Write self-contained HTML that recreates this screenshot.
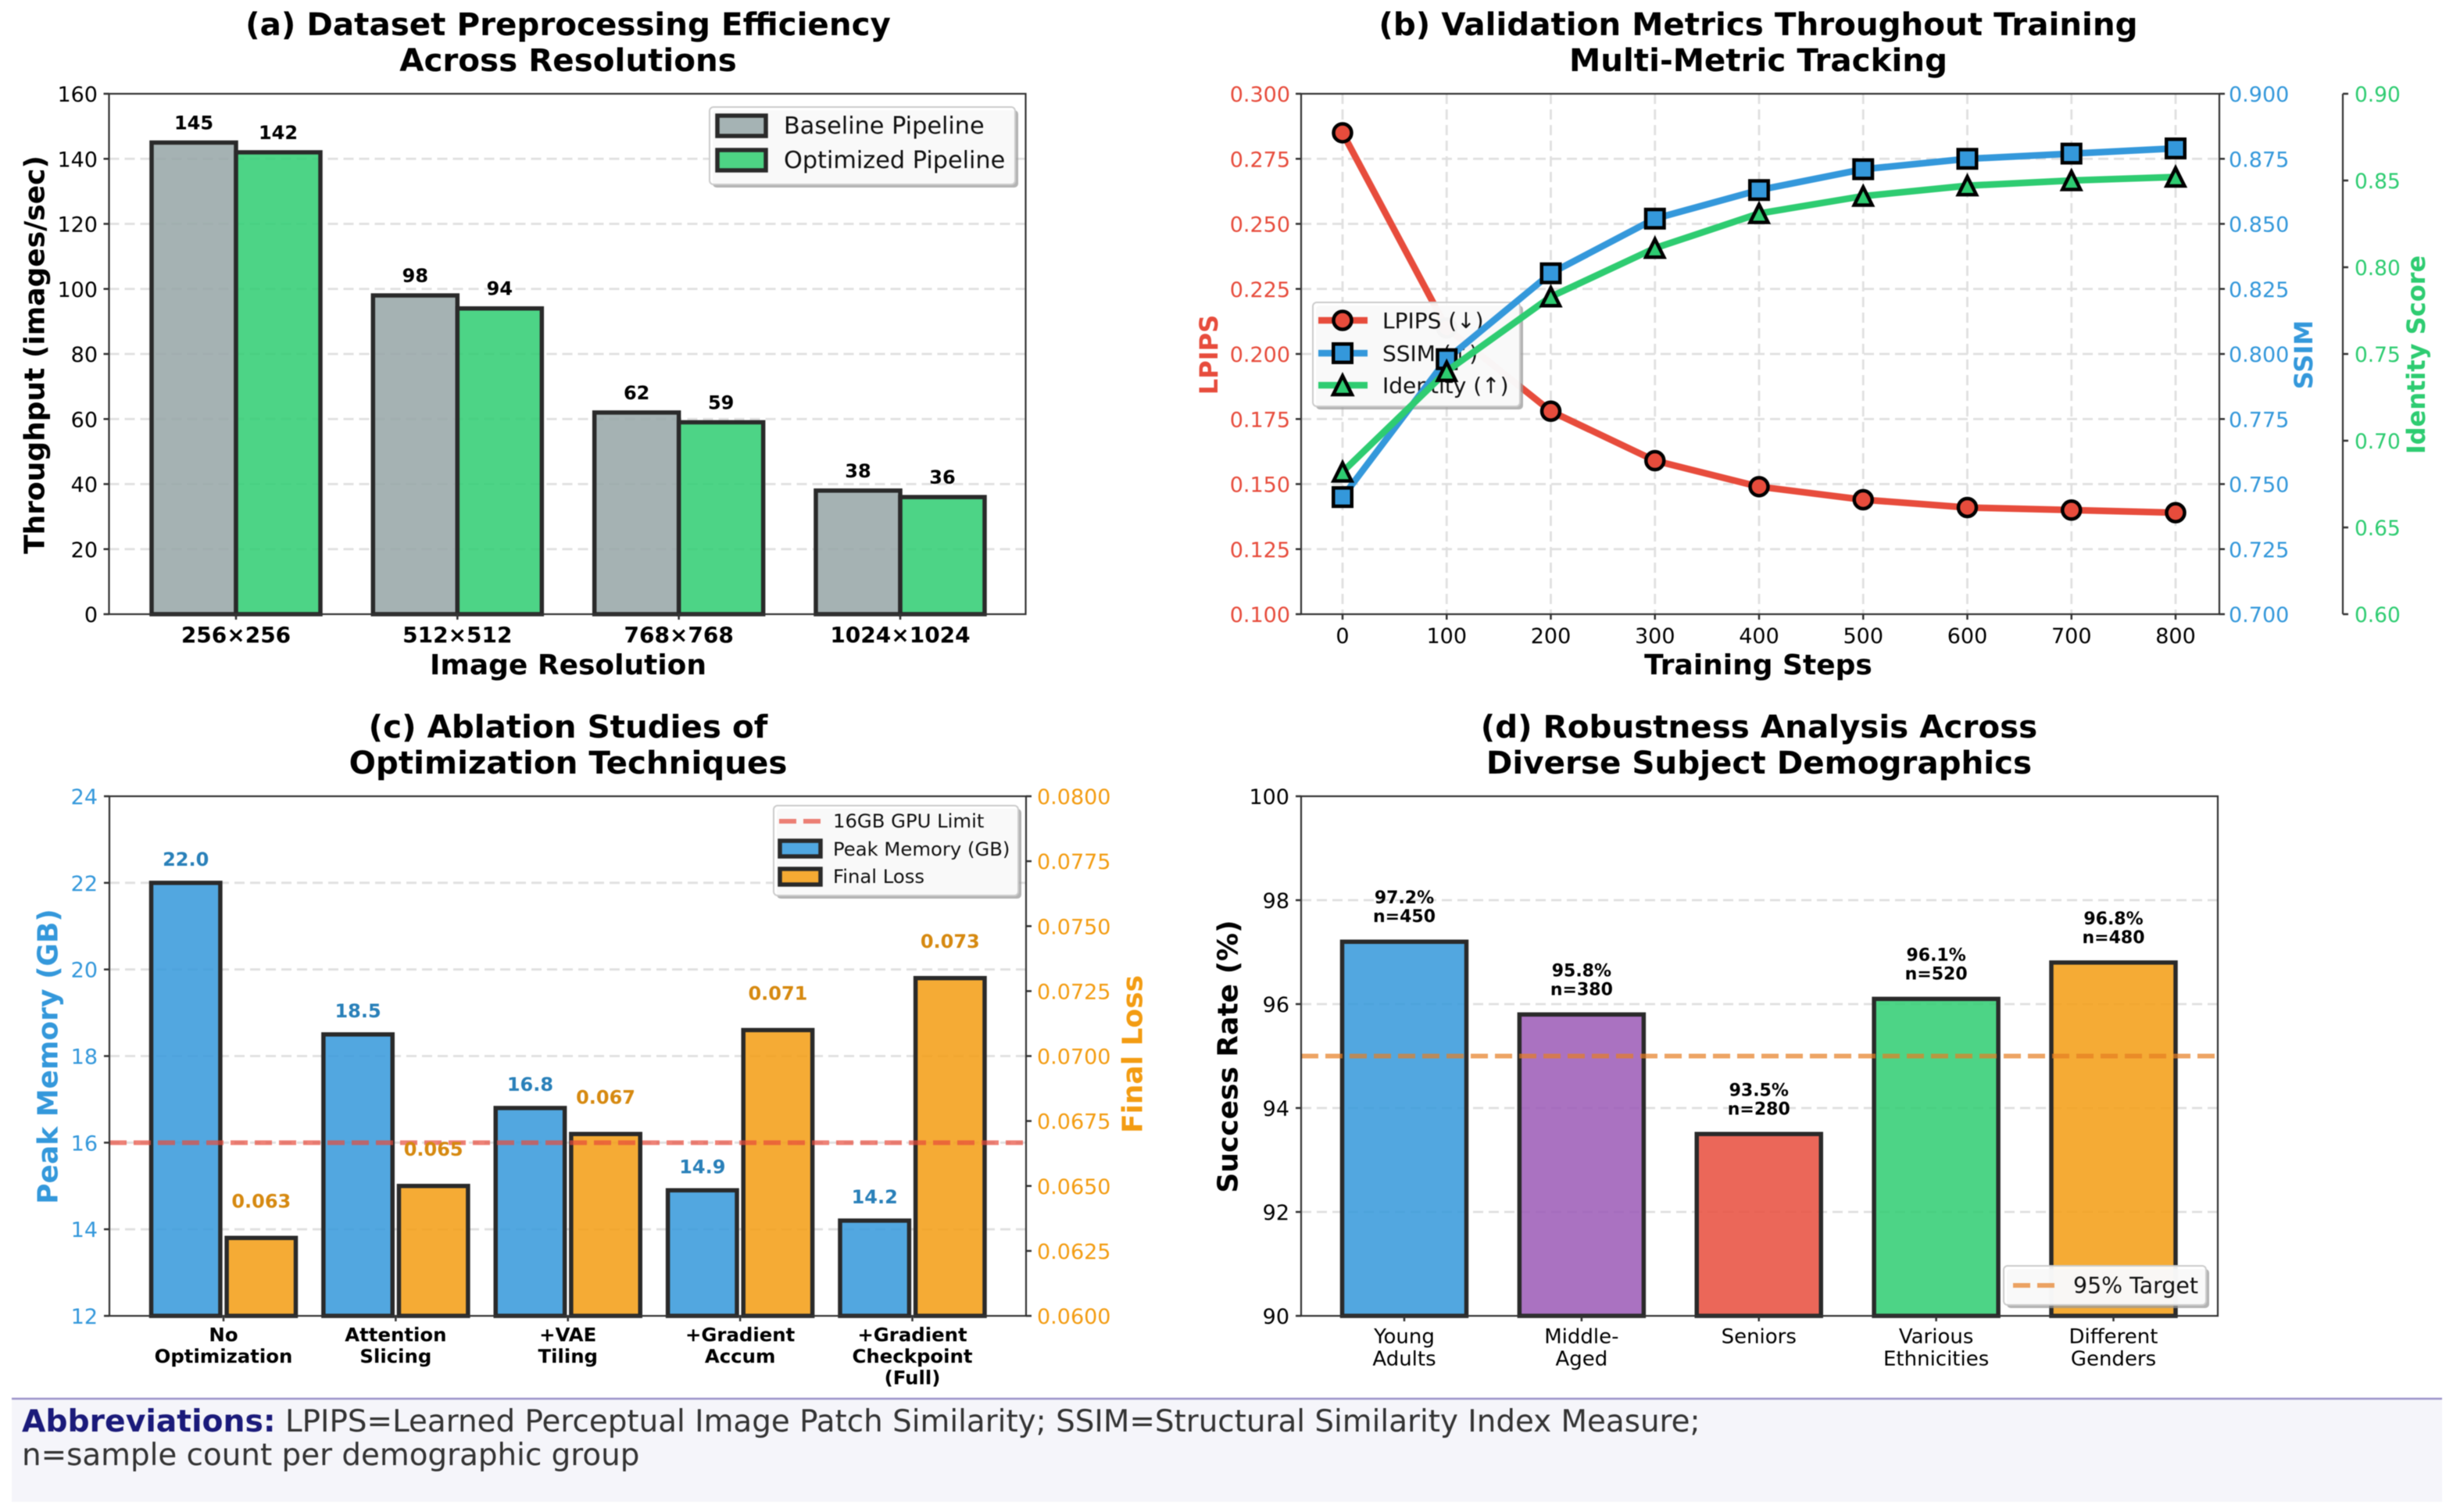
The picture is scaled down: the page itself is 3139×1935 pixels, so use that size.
<!DOCTYPE html>
<html lang="en">
<head>
<meta charset="utf-8">
<title>Training pipeline evaluation figure</title>
<style>
html,body{margin:0;padding:0;background:#fff;}
svg{display:block;font-family:"DejaVu Sans","Liberation Sans",sans-serif;filter:blur(0.5px);}
.title{font-size:40.4px;font-weight:700;fill:#000;text-anchor:middle;}
.axis-label{font-size:36px;font-weight:700;text-anchor:middle;}
.spine{stroke:#333;stroke-width:2.2;fill:none;}
.legend-frame{fill:#fff;fill-opacity:.92;stroke:#ccc;stroke-width:2;}
.legend-shadow{fill:#999;fill-opacity:.75;}
</style>
</head>
<body>
<svg id="figure" xmlns="http://www.w3.org/2000/svg" width="3139" height="1935" viewBox="0 0 3139 1935">
  <rect width="3139" height="1935" fill="#fff"/>

  <g id="panel-a">
    <text class="title" x="727" y="45">(a) Dataset Preprocessing Efficiency</text>
    <text class="title" x="727" y="91">Across Resolutions</text>
    <g id="a-grid"></g><g id="a-bars"></g><g id="a-labels"></g>
    <rect class="spine" x="139.5" y="120" width="1173" height="666"/>
    <g id="a-axis"></g>
    <text class="axis-label" x="727" y="863" fill="#000">Image Resolution</text>
    <text class="axis-label" transform="rotate(-90 45 454)" x="45" y="454" dominant-baseline="central" fill="#000">Throughput (images/sec)</text>
    <g>
      <rect class="legend-shadow" x="912" y="141" width="391" height="99" rx="5"/>
      <rect class="legend-frame" x="908" y="137" width="391" height="99" rx="5"/>
      <rect x="918" y="148" width="62" height="26" fill="#a5b3b4" stroke="#2a2a2a" stroke-width="5.5"/>
      <text x="1003" y="171" font-size="30.3" fill="#111">Baseline Pipeline</text>
      <rect x="918" y="192" width="62" height="26" fill="#4dd484" stroke="#2a2a2a" stroke-width="5.5"/>
      <text x="1003" y="215" font-size="30.3" fill="#111">Optimized Pipeline</text>
    </g>
  </g>

  <g id="panel-b">
    <text class="title" x="2250" y="45">(b) Validation Metrics Throughout Training</text>
    <text class="title" x="2250" y="91">Multi-Metric Tracking</text>
    <g id="b-grid"></g>
    <g id="b-lpips"></g>
    <g>
      <rect class="legend-shadow" x="1684" y="391" width="265" height="133" rx="5"/>
      <rect class="legend-frame" x="1680" y="387" width="265" height="133" rx="5"/>
      <line x1="1687" x2="1750" y1="410" y2="410" stroke="#e74c3c" stroke-width="8.5"/>
      <circle cx="1718" cy="410" r="11.5" fill="#e74c3c" stroke="#000" stroke-width="4.5"/>
      <text x="1769" y="420" font-size="28" fill="#111">LPIPS (↓)</text>
      <line x1="1687" x2="1750" y1="452" y2="452" stroke="#3498db" stroke-width="8.5"/>
      <rect x="1706.25" y="440.25" width="23.5" height="23.5" fill="#3498db" stroke="#000" stroke-width="4.5"/>
      <text x="1769" y="462" font-size="28" fill="#111">SSIM (↑)</text>
      <line x1="1687" x2="1750" y1="493" y2="493" stroke="#2ecc71" stroke-width="8.5"/>
      <polygon points="1718,481 1706,505 1730,505" fill="#2ecc71" stroke="#000" stroke-width="4.5"/>
      <text x="1769" y="503" font-size="28" fill="#111">Identity (↑)</text>
    </g>
    <g id="b-ssim"></g>
    <g id="b-identity"></g>
    <rect class="spine" x="1665" y="120" width="1175" height="666"/>
    <line class="spine" x1="2998" x2="2998" y1="120" y2="786"/>
    <g id="b-axis"></g>
    <text class="axis-label" x="2250" y="863" fill="#000">Training Steps</text>
    <text class="axis-label" style="font-size:32px" transform="rotate(-90 1547 454)" x="1547" y="454" dominant-baseline="central" fill="#e74c3c">LPIPS</text>
    <text class="axis-label" style="font-size:32px" transform="rotate(-90 2948 454)" x="2948" y="454" dominant-baseline="central" fill="#3498db">SSIM</text>
    <text class="axis-label" style="font-size:32px" transform="rotate(-90 3092 454)" x="3092" y="454" dominant-baseline="central" fill="#2ecc71">Identity Score</text>
  </g>

  <g id="panel-c">
    <text class="title" x="727" y="944">(c) Ablation Studies of</text>
    <text class="title" x="727" y="990">Optimization Techniques</text>
    <g id="c-grid"></g><g id="c-bars"></g><g id="c-limit"></g><g id="c-labels"></g>
    <rect class="spine" x="140" y="1019" width="1173" height="665"/>
    <g id="c-axis"></g>
    <text class="axis-label" transform="rotate(-90 62 1352)" x="62" y="1352" dominant-baseline="central" fill="#3498db">Peak Memory (GB)</text>
    <text class="axis-label" transform="rotate(-90 1450 1349)" x="1450" y="1349" dominant-baseline="central" fill="#f39c12">Final Loss</text>
    <g>
      <rect class="legend-shadow" x="994" y="1035" width="313" height="115" rx="5"/>
      <rect class="legend-frame" x="990" y="1031" width="313" height="115" rx="5"/>
      <line x1="997" x2="1050" y1="1051" y2="1051" stroke="#e74c3c" stroke-opacity=".7" stroke-width="6" stroke-dasharray="22 9"/>
      <text x="1066" y="1059" font-size="24.3" fill="#111">16GB GPU Limit</text>
      <rect x="998" y="1076" width="52" height="20" fill="#50a7e1" stroke="#2a2a2a" stroke-width="5.5"/>
      <text x="1066" y="1095" font-size="24.3" fill="#111">Peak Memory (GB)</text>
      <rect x="998" y="1112" width="52" height="20" fill="#f5aa33" stroke="#2a2a2a" stroke-width="5.5"/>
      <text x="1066" y="1130" font-size="24.3" fill="#111">Final Loss</text>
    </g>
  </g>

  <g id="panel-d">
    <text class="title" x="2251" y="944">(d) Robustness Analysis Across</text>
    <text class="title" x="2251" y="990">Diverse Subject Demographics</text>
    <g id="d-grid"></g><g id="d-bars"></g><g id="d-target"></g><g id="d-labels"></g>
    <rect class="spine" x="1665" y="1019" width="1173" height="665"/>
    <g id="d-axis"></g>
    <text class="axis-label" transform="rotate(-90 1572 1352)" x="1572" y="1352" dominant-baseline="central" fill="#000">Success Rate (%)</text>
    <g>
      <rect class="legend-shadow" x="2568" y="1624" width="259" height="50" rx="5"/>
      <rect class="legend-frame" x="2564" y="1620" width="259" height="50" rx="5"/>
      <line x1="2576" x2="2629" y1="1645" y2="1645" stroke="#e67e22" stroke-opacity=".7" stroke-width="6" stroke-dasharray="22 9"/>
      <text x="2653" y="1655" font-size="28.4" fill="#111">95% Target</text>
    </g>
  </g>

  <g>
    <rect x="15" y="1790" width="3110" height="132" fill="#f5f5fa"/>
    <line x1="15" x2="3125" y1="1790" y2="1790" stroke="#9b93c9" stroke-width="2.5"/>
    <text x="28" y="1832" font-size="38.85" fill="#333"><tspan font-weight="700" fill="#1a1a7a" style="font-size:39.3px">Abbreviations:</tspan> LPIPS=Learned Perceptual Image Patch Similarity; SSIM=Structural Similarity Index Measure;</text>
    <text x="28" y="1875" font-size="38.85" fill="#333">n=sample count per demographic group</text>
  </g>
</svg>

<script>
// ---- Panel (a) data ----
const resolutionCategories = ['256×256', '512×512', '768×768', '1024×1024'];
const baselineThroughput = [145, 98, 62, 38];
const optimizedThroughput = [142, 94, 59, 36];
const throughputTicks = [0, 20, 40, 60, 80, 100, 120, 140, 160];

// ---- Panel (b) data ----
const trainingSteps = [0, 100, 200, 300, 400, 500, 600, 700, 800];
const lpipsValues = [0.285, 0.210, 0.178, 0.159, 0.149, 0.144, 0.141, 0.140, 0.139];
const ssimValues = [0.745, 0.798, 0.831, 0.852, 0.863, 0.871, 0.875, 0.877, 0.879];
const identityValues = [0.682, 0.740, 0.783, 0.811, 0.831, 0.841, 0.847, 0.850, 0.852];
const stepTicks = [0, 100, 200, 300, 400, 500, 600, 700, 800];
const lpipsTicks = [0.100, 0.125, 0.150, 0.175, 0.200, 0.225, 0.250, 0.275, 0.300];
const ssimTicks = [0.700, 0.725, 0.750, 0.775, 0.800, 0.825, 0.850, 0.875, 0.900];
const identityTicks = [0.60, 0.65, 0.70, 0.75, 0.80, 0.85, 0.90];

// ---- Panel (c) data ----
const techniqueCategories = [['No', 'Optimization'], ['Attention', 'Slicing'], ['+VAE', 'Tiling'], ['+Gradient', 'Accum'], ['+Gradient', 'Checkpoint', '(Full)']];
const peakMemory = [22.0, 18.5, 16.8, 14.9, 14.2];
const finalLoss = [0.063, 0.065, 0.067, 0.071, 0.073];
const memoryTicks = [12, 14, 16, 18, 20, 22, 24];
const lossTicks = [0.0600, 0.0625, 0.0650, 0.0675, 0.0700, 0.0725, 0.0750, 0.0775, 0.0800];
const gpuLimit = 16;

// ---- Panel (d) data ----
const demographicCategories = [['Young', 'Adults'], ['Middle-', 'Aged'], ['Seniors'], ['Various', 'Ethnicities'], ['Different', 'Genders']];
const successRate = [97.2, 95.8, 93.5, 96.1, 96.8];
const sampleCounts = [450, 380, 280, 520, 480];
const rateTicks = [90, 92, 94, 96, 98, 100];
const targetRate = 95;

const SVG_NS = 'http://www.w3.org/2000/svg';
const demographicColors = ['#3498db', '#9b59b6', '#e74c3c', '#2ecc71', '#f39c12'];

function linear(d0, d1, r0, r1) {
  return function (v) { return r0 + (v - d0) * (r1 - r0) / (d1 - d0); };
}
function make(tag, parentId, attrs, content) {
  const node = document.createElementNS(SVG_NS, tag);
  for (const k in attrs) { node.setAttribute(k, attrs[k]); }
  if (content !== undefined) { node.textContent = content; }
  document.getElementById(parentId).appendChild(node);
  return node;
}
const GRID = { stroke: '#e0e0e0', 'stroke-width': 2.8, 'stroke-dasharray': '13 7' };
const TICK = { stroke: '#333', 'stroke-width': 2.5 };
const BAR_EDGE = { stroke: '#2a2a2a', 'stroke-width': 5.5 };

function barRect(parentId, cx, width, top, bottom, fill) {
  return make('rect', parentId, Object.assign({ x: cx - width / 2, y: top, width: width, height: bottom - top, fill: fill, 'fill-opacity': 0.85 }, BAR_EDGE));
}

// ---------------- Panel (a) ----------------
const aX = linear(0, 3, 302, 1152);
const aY = linear(0, 160, 786, 120);
const aBarWidth = 108;
throughputTicks.forEach(function (t) {
  if (t > 0 && t < 160) {
    const g = make('line', 'a-grid', Object.assign({ x1: 139.5, x2: 1312.5, y1: aY(t), y2: aY(t) }, GRID));
    
    
  }
  const m = make('line', 'a-axis', Object.assign({ x1: 132.5, x2: 139.5, y1: aY(t), y2: aY(t) }, TICK));
  
  
  const l = make('text', 'a-axis', { x: 125, y: aY(t) + 10, 'text-anchor': 'end', 'font-size': 27, fill: '#000' }, String(t));
  
  
});
resolutionCategories.forEach(function (c, i) {
  const b1 = barRect('a-bars', aX(i) - aBarWidth / 2, aBarWidth, aY(baselineThroughput[i]), aY(0), '#95a5a6');
  
  
  const b2 = barRect('a-bars', aX(i) + aBarWidth / 2, aBarWidth, aY(optimizedThroughput[i]), aY(0), '#2ecc71');
  
  
  const v1 = make('text', 'a-labels', { x: aX(i) - aBarWidth / 2, y: aY(baselineThroughput[i]) - 17, 'text-anchor': 'middle', 'font-size': 24, 'font-weight': 700, fill: '#000' }, String(baselineThroughput[i]));
  
  
  const v2 = make('text', 'a-labels', { x: aX(i) + aBarWidth / 2, y: aY(optimizedThroughput[i]) - 17, 'text-anchor': 'middle', 'font-size': 24, 'font-weight': 700, fill: '#000' }, String(optimizedThroughput[i]));
  
  
  const m = make('line', 'a-axis', Object.assign({ x1: aX(i), x2: aX(i), y1: 786, y2: 793 }, TICK));
  
  
  const l = make('text', 'a-axis', { x: aX(i), y: 822, 'text-anchor': 'middle', 'font-size': 28, 'font-weight': 700, fill: '#000' }, c);
  
  
});

// ---------------- Panel (b) ----------------
const bX = linear(0, 800, 1718, 2784);
const bLpips = linear(0.1, 0.3, 786, 120);
const bSsim = linear(0.7, 0.9, 786, 120);
const bIdentity = linear(0.6, 0.9, 786, 120);

stepTicks.forEach(function (t) {
  const g = make('line', 'b-grid', Object.assign({ x1: bX(t), x2: bX(t), y1: 120, y2: 786 }, GRID));
  
  
  const m = make('line', 'b-axis', Object.assign({ x1: bX(t), x2: bX(t), y1: 786, y2: 793 }, TICK));
  
  
  const l = make('text', 'b-axis', { x: bX(t), y: 823, 'text-anchor': 'middle', 'font-size': 27, fill: '#000' }, String(t));
  
  
});
lpipsTicks.forEach(function (t) {
  if (t > 0.1 && t < 0.3) {
    const g = make('line', 'b-grid', Object.assign({ x1: 1665, x2: 2840, y1: bLpips(t), y2: bLpips(t) }, GRID));
    
    
  }
  const m = make('line', 'b-axis', Object.assign({ x1: 1658, x2: 1665, y1: bLpips(t), y2: bLpips(t) }, TICK));
  
  
  const l = make('text', 'b-axis', { x: 1651, y: bLpips(t) + 10, 'text-anchor': 'end', 'font-size': 27, fill: '#e74c3c' }, t.toFixed(3));
  
  
});
ssimTicks.forEach(function (t) {
  const m = make('line', 'b-axis', Object.assign({ x1: 2840, x2: 2847, y1: bSsim(t), y2: bSsim(t) }, TICK));
  
  
  const l = make('text', 'b-axis', { x: 2852, y: bSsim(t) + 10, 'font-size': 27, fill: '#3498db' }, t.toFixed(3));
  
  
});
identityTicks.forEach(function (t) {
  const m = make('line', 'b-axis', Object.assign({ x1: 2998, x2: 3005, y1: bIdentity(t), y2: bIdentity(t) }, TICK));
  
  
  const l = make('text', 'b-axis', { x: 3013, y: bIdentity(t) + 10, 'font-size': 26.4, fill: '#2ecc71' }, t.toFixed(2));
  
  
});

function pointsFor(values, yScale) {
  return trainingSteps.map(function (s, i) { return bX(s) + ',' + yScale(values[i]); }).join(' ');
}
const LINE_STYLE = { fill: 'none', 'stroke-width': 8.5, 'stroke-linejoin': 'round' };
const MARK_EDGE = { stroke: '#000', 'stroke-width': 4.5 };

const lpipsLine = make('polyline', 'b-lpips', Object.assign({ points: pointsFor(lpipsValues, bLpips), stroke: '#e74c3c' }, LINE_STYLE));


lpipsValues.forEach(function (v, i) {
  const p = make('circle', 'b-lpips', Object.assign({ cx: bX(trainingSteps[i]), cy: bLpips(v), r: 11.5, fill: '#e74c3c' }, MARK_EDGE));
  
  
});

const ssimLine = make('polyline', 'b-ssim', Object.assign({ points: pointsFor(ssimValues, bSsim), stroke: '#3498db' }, LINE_STYLE));


ssimValues.forEach(function (v, i) {
  const p = make('rect', 'b-ssim', Object.assign({ x: bX(trainingSteps[i]) - 11.75, y: bSsim(v) - 11.75, width: 23.5, height: 23.5, fill: '#3498db' }, MARK_EDGE));
  
  
});

const identityLine = make('polyline', 'b-identity', Object.assign({ points: pointsFor(identityValues, bIdentity), stroke: '#2ecc71' }, LINE_STYLE));


identityValues.forEach(function (v, i) {
  const cx = bX(trainingSteps[i]);
  const cy = bIdentity(v);
  const p = make('polygon', 'b-identity', Object.assign({ points: cx + ',' + (cy - 11.5) + ' ' + (cx - 11.5) + ',' + (cy + 11.5) + ' ' + (cx + 11.5) + ',' + (cy + 11.5), fill: '#2ecc71' }, MARK_EDGE));
  
  
});

// ---------------- Panel (c) ----------------
const cX = linear(0, 4, 286, 1167.5);
const cMem = linear(12, 24, 1684, 1019);
const cLoss = linear(0.06, 0.08, 1684, 1019);
const cBarWidth = 88.4;
const cOffset = 48.3;
memoryTicks.forEach(function (t) {
  if (t > 12 && t < 24) {
    const g = make('line', 'c-grid', Object.assign({ x1: 140, x2: 1313, y1: cMem(t), y2: cMem(t) }, GRID));
    
    
  }
  const m = make('line', 'c-axis', Object.assign({ x1: 133, x2: 140, y1: cMem(t), y2: cMem(t) }, TICK));
  
  
  const l = make('text', 'c-axis', { x: 125, y: cMem(t) + 10, 'text-anchor': 'end', 'font-size': 27, fill: '#3498db' }, String(t));
  
  
});
lossTicks.forEach(function (t) {
  const m = make('line', 'c-axis', Object.assign({ x1: 1313, x2: 1320, y1: cLoss(t), y2: cLoss(t) }, TICK));
  
  
  const l = make('text', 'c-axis', { x: 1327, y: cLoss(t) + 10, 'font-size': 27, fill: '#f39c12' }, t.toFixed(4));
  
  
});
techniqueCategories.forEach(function (c, i) {
  const b1 = barRect('c-bars', cX(i) - cOffset, cBarWidth, cMem(peakMemory[i]), cMem(12), '#3498db');
  
  
  const b2 = barRect('c-bars', cX(i) + cOffset, cBarWidth, cLoss(finalLoss[i]), cLoss(0.06), '#f39c12');
  
  
  const v1 = make('text', 'c-labels', { x: cX(i) - cOffset, y: cMem(peakMemory[i]) - 22, 'text-anchor': 'middle', 'font-size': 24, 'font-weight': 700, fill: '#2980b9' }, peakMemory[i].toFixed(1));
  
  
  const v2 = make('text', 'c-labels', { x: cX(i) + cOffset, y: cLoss(finalLoss[i]) - 39, 'text-anchor': 'middle', 'font-size': 24, 'font-weight': 700, fill: '#d68910' }, finalLoss[i].toFixed(3));
  
  
  const m = make('line', 'c-axis', Object.assign({ x1: cX(i), x2: cX(i), y1: 1684, y2: 1691 }, TICK));
  
  
  c.forEach(function (line, j) {
    const l = make('text', 'c-axis', { x: cX(i), y: 1716.7 + j * 27.4, 'text-anchor': 'middle', 'font-size': 24.4, 'font-weight': 700, fill: '#000' }, line);
    
    
  });
});
const limitLine = make('line', 'c-limit', { x1: 140, x2: 1313, y1: cMem(gpuLimit), y2: cMem(gpuLimit), stroke: '#e74c3c', 'stroke-opacity': 0.7, 'stroke-width': 6, 'stroke-dasharray': '22 9' });



// ---------------- Panel (d) ----------------
const dX = linear(0, 4, 1797, 2704.5);
const dY = linear(90, 100, 1684, 1019);
const dBarWidth = 159;
rateTicks.forEach(function (t) {
  if (t > 90 && t < 100) {
    const g = make('line', 'd-grid', Object.assign({ x1: 1665, x2: 2838, y1: dY(t), y2: dY(t) }, GRID));
    
    
  }
  const m = make('line', 'd-axis', Object.assign({ x1: 1658, x2: 1665, y1: dY(t), y2: dY(t) }, TICK));
  
  
  const l = make('text', 'd-axis', { x: 1650, y: dY(t) + 10, 'text-anchor': 'end', 'font-size': 27, fill: '#000' }, String(t));
  
  
});
demographicCategories.forEach(function (c, i) {
  const b = barRect('d-bars', dX(i), dBarWidth, dY(successRate[i]), dY(90), demographicColors[i]);
  
  
  const v1 = make('text', 'd-labels', { x: dX(i), y: dY(successRate[i]) - 49, 'text-anchor': 'middle', 'font-size': 22, 'font-weight': 700, fill: '#000' }, successRate[i].toFixed(1) + '%');
  
  
  const v2 = make('text', 'd-labels', { x: dX(i), y: dY(successRate[i]) - 25, 'text-anchor': 'middle', 'font-size': 22, 'font-weight': 700, fill: '#000' }, 'n=' + sampleCounts[i]);
  
  
  const m = make('line', 'd-axis', Object.assign({ x1: dX(i), x2: dX(i), y1: 1684, y2: 1691 }, TICK));
  
  
  c.forEach(function (line, j) {
    const l = make('text', 'd-axis', { x: dX(i), y: 1719 + j * 28.5, 'text-anchor': 'middle', 'font-size': 26, fill: '#000' }, line);
    
    
  });
});
const targetLine = make('line', 'd-target', { x1: 1665, x2: 2838, y1: dY(targetRate), y2: dY(targetRate), stroke: '#e67e22', 'stroke-opacity': 0.7, 'stroke-width': 6, 'stroke-dasharray': '22 9' });


</script>
</body>
</html>
